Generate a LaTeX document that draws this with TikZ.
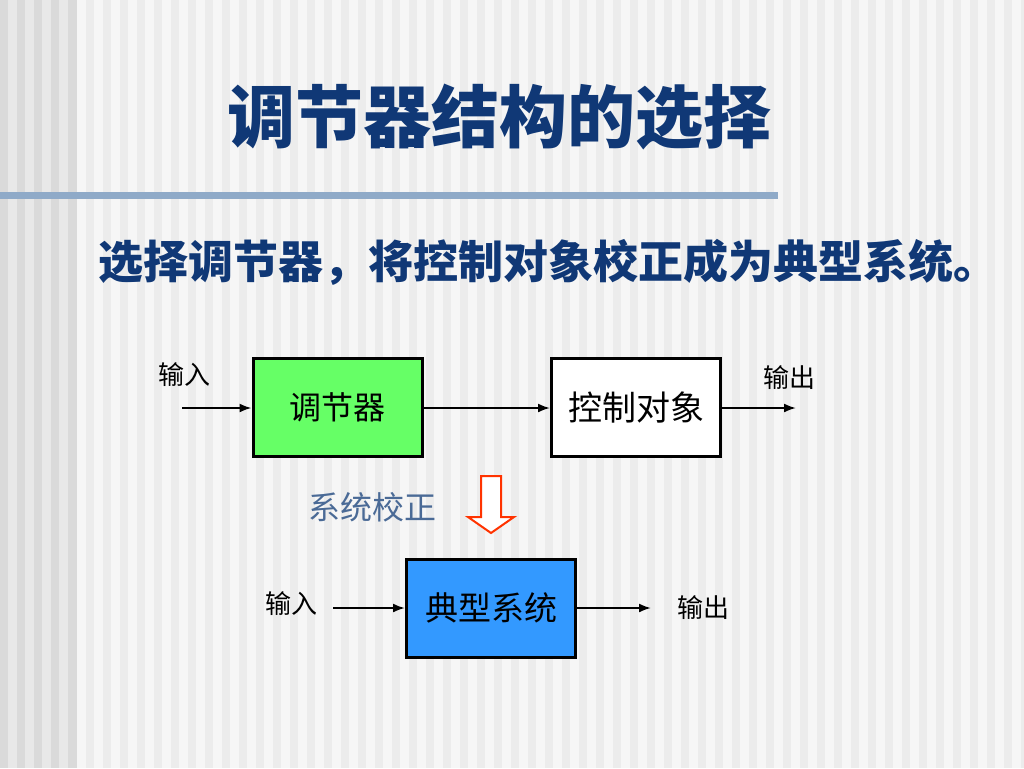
\documentclass[tikz,border=0pt]{standalone}
\usepackage{fontspec}
\setmainfont{Noto Sans CJK SC}
\usetikzlibrary{arrows.meta,positioning,calc}

\definecolor{bgleft}{RGB}{218,218,218}
\definecolor{stripeleft}{RGB}{232,232,232}
\definecolor{bgright}{RGB}{246,246,246}
\definecolor{striperight}{RGB}{236,236,236}
\definecolor{titleblue}{RGB}{16,56,118}
\definecolor{rulecol}{RGB}{143,170,200}
\definecolor{notecol}{RGB}{74,106,150}
\definecolor{boxgreen}{RGB}{102,255,102}
\definecolor{boxblue}{RGB}{51,153,255}
\definecolor{arrowred}{RGB}{255,51,0}

\begin{document}
\begin{tikzpicture}[x=1pt,y=-1pt,
  block/.style={draw=black,line width=3pt,minimum width=169pt,minimum height=98pt,inner sep=0pt},
  lab/.style={inner sep=0pt,font=\fontsize{26}{30}\selectfont},
  sig/.style={line width=2pt,-{Latex[length=12pt,width=9pt]}}]
\useasboundingbox (0,0) rectangle (1024,768);

% background stripes
\fill[bgright] (0,0) rectangle (1024,768);
\fill[bgleft] (0,0) rectangle (77,768);
\foreach \x in {0,...,3} \fill[stripeleft] (\x*17+8,0) rectangle ++(9,768);
\foreach \x in {0,...,55} \fill[striperight] (\x*17+86,0) rectangle ++(8,768);
\fill[rulecol] (0,192) rectangle (778,199);

% headings
\node[titleblue,font=\fontsize{68}{80}\selectfont\bfseries] (title) at (499,117) {调节器结构的选择};
\node[titleblue,font=\fontsize{45}{54}\selectfont\bfseries] (aim) at (548,262) {选择调节器，将控制对象校正成为典型系统。};

% upper loop
\node[block,fill=boxgreen,font=\fontsize{32}{38}\selectfont] (reg) at (337.5,407) {调节器};
\node[block,fill=white,font=\fontsize{34}{40}\selectfont] (plant) at (636,407) {控制对象};
\node[lab] (in1) at (184,375) {输入};
\node[lab] (out1) at (789,378) {输出};
\coordinate (a1) at (182,408);
\coordinate (b1) at (796,408);
\draw[sig] (a1) -- (reg.west|-a1);
\draw[sig] (reg.east|-a1) -- (plant.west|-a1);
\draw[sig] (plant.east|-a1) -- (b1);

% correction
\node[notecol,inner sep=0pt,font=\fontsize{32}{38}\selectfont] (corr) at (372,507) {系统校正};
\draw[arrowred,fill=white,line width=2pt,line join=miter]
  (481,476) -- (501,476) -- (501,517) -- (514,517) -- (491,533) -- (468,517) -- (481,517) -- cycle;

% lower loop
\node[block,fill=boxblue,font=\fontsize{33}{40}\selectfont] (typ) at (491,608) {典型系统};
\node[lab] (in2) at (291,604) {输入};
\node[lab] (out2) at (703,608) {输出};
\coordinate (a2) at (333,608);
\coordinate (b2) at (651,608);
\draw[sig] (a2) -- (typ.west|-a2);
\draw[sig] (typ.east|-a2) -- (b2);
\end{tikzpicture}
\end{document}
